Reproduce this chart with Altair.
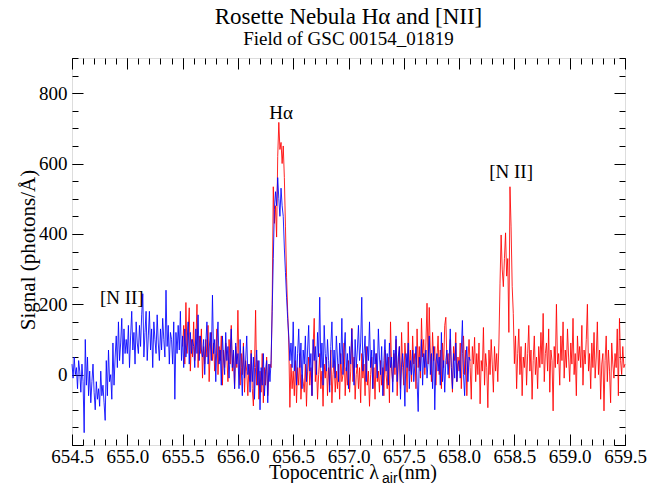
import altair as alt
import numpy as np
import pandas as pd

SERIF = "Liberation Serif"

# ---- data ----
blue_start = 654.50   # nm, sampling step 0.01 nm
red_start = 655.50
step = 0.01

blue_signal = [
    30, -10, 50, 0, 20, -40, 40, 10, -50, 30,
    -20, -165, 100, -30, 50, -60, 10, -80, -20, 30,
    -50, -100, -20, -70, -40, -90, 10, -60, -30, -80,
    -130, 40, -60, 70, -20, 0, -70, 90, -30, 50,
    110, 20, 150, 40, 90, 160, 30, 130, 60, 100,
    60, 140, 20, 110, 180, 70, 120, 30, 150, 90,
    60, 140, 80, 170, 230, 50, 120, 180, 40, 110,
    180, 70, 130, 20, 150, 100, 60, 170, 90, 40,
    130, 70, 160, 100, 50, 240, 80, 140, 30, 120,
    100, 30, 150, -70, 120, 60, 140, 70, 180, 40,
    110, 20, 130, 50, 90, 150, 30, 120, 60, 100,
    80, 20, 130, 60, 170, 40, 110, 70, 50, 100,
    0, 90, 150, 30, 70, 120, 40, 226, 60, 100,
    -20, 90, 150, 30, 70, -30, 110, 50, 0, 120,
    40, 80, -10, 60, 130, 20, 70, -40, 90, 30,
    60, -40, 100, 20, -60, 80, -10, 40, 110, 0,
    30, -50, 60, -20, 50, -70, 20, 70, -30, 40,
    -100, 20, -30, 60, -60, 10, 40, -80, 30, -20,
    40, 180, 330, 470, 520, 480, 560, 500, 450, 530,
    480, 450, 360, 290, 220, 160, 110, 40, 90, 20,
    150, 10, 80, -30, 60, 130, 20, 90, -40, 70,
    30, 110, -20, 70, 140, 10, 60, -60, 100, 40,
    80, 0, 120, 50, 220, 20, 90, -30, 140, 60,
    10, 100, 40, -50, 80, 150, 20, 70, -10, 110,
    50, -20, 90, 30, 160, 0, 70, 120, 10, 60,
    -40, 80, 30, 130, 50, -30, 100, 20, 70, 140,
    40, 90, 220, 10, 60, 110, -20, 80, 40, 150,
    20, 70, -40, 100, 30, 60, -10, 130, 50, 0,
    80, -60, 40, 100, 10, 60, -30, 90, 20, 50,
    -50, 70, 20, 110, -20, 50, 80, -70, 30, 60,
    10, -90, 60, 20, 90, -40, 40, 0, 70, -20,
    30, 80, -20, -105, 50, 10, 100, -30, 60, 20,
    70, -10, 40, 110, 0, 60, -40, 80, -100, 30,
    60, 10, 50, -30, 120, -20, 40, -50, 40, 70,
    0, 40, 130, 20, -40, 60, -10, 90, -20, 30,
    40, -10, 70, 154, 0, -60, 40, 80, -20, 50,
    40,
]

red_signal = [
    80, 140, 30, 205, 60, 120, 190, 10, 100, 50,
    150, 40, 90, 200, 20, 110, 60, 130, -10, 80,
    30, 100, 50, 140, -20, 70, 120, 40, 90, 10,
    60, 130, 0, 80, 40, 110, -30, 70, 20, 90,
    50, -20, 100, 30, 140, 10, 60, -40, 80, 20,
    183, 20, -30, 60, 0, 90, -50, 40, 10, -60,
    30, -20, 70, -40, -89, 20, 183, -30, 40, -70,
    10, -50, 60, -80, 20, -30, 50, -60, 0, 30,
    20, 200, 534, 430, 480, 391, 620, 717, 640, 660,
    600, 650, 560, 420, 277, 180, 90, -93, 30, -40,
    10, -60, 40, -80, 20, -30, 60, -70, 0, -20,
    -50, 30, -90, 10, 50, -30, 20, -60, 80, 160,
    -20, 40, -70, 0, 60, -40, 10, -90, 30, -10,
    50, -60, 20, -30, 70, -80, 0, 40, -50, 10,
    -40, 30, -70, 60, -20, 0, 90, -60, 20, -30,
    40, -50, 10, 132, -20, 50, -70, 0, 30, -40,
    20, -80, 60, -10, 30, -60, 80, -30, 10, -90,
    0, 50, -40, 20, -70, 60, -20, 10, -50, 40,
    -30, 20, -60, 70, 0, -40, 50, -80, 150, 10,
    -20, 60, 0, 100, -60, 30, 80, -40, 120, 20,
    -30, 90, 40, -50, 150, 10, 70, -20, 110, 30,
    60, -40, 130, 20, 80, -10, 160, 50, 100, 0,
    90, 203, 30, 191, 60, -20, 120, 40, 80, -30,
    50, 110, 0, 70, -40, 90, 20, 140, 163, 30,
    60, -10, 100, 20, -50, 80, 40, 120, -20, 50,
    10, 90, -40, 60, 110, 0, 70, -60, 40, 100,
    20, -70, 80, 30, 106, -20, 60, 0, 90, -83,
    40, 10, 134, -30, 60, 20, -94, 70, 0, 100,
    30, -50, 80, 10, 60, -20, 90, 260, 397, 300,
    250, 330, 403, 280, 330, 120, 534, 420, 250, 174,
    31, 110, -40, 60, 130, 0, 80, -60, 50, 20,
    90, -30, 60, 140, 10, 70, -70, 40, 110, 0,
    50, -40, 80, 20, 120, 30, 174, -20, 60, 90,
    10, 130, -50, 70, 40, -103, 80, 20, 200, 30,
    60, -30, 110, 40, 150, -10, 70, 20, 130, 50,
    -20, 90, 30, 160, 0, 60, -60, 110, 40, 80,
    20, 140, -30, 70, 30, 100, 200, 10, 60, -40,
    90, 20, 120, -10, 50, 150, 0, 70, -70, 30,
    60, -103, 40, 110, -20, 70, 10, -80, 90, 30,
    -10, 60, 20, 130, -60, 160, 40, 0, 80, 20,
    30,
]

ann_text = ["Hα", "[N II]", "[N II]"]
ann_lambda = [656.39, 658.47, 654.95]
ann_signal = [743, 577, 217]

x_major = [654.5, 655.0, 655.5, 656.0, 656.5, 657.0, 657.5, 658.0, 658.5, 659.0, 659.5]
x_minor = [round(654.5 + 0.1 * i, 1) for i in range(51)]
y_major = [-200, 0, 200, 400, 600, 800]
y_minor = [-200 + 50 * i for i in range(23)]

# ---- tables ----
blue_df = pd.DataFrame({
    "lam": np.round(blue_start + step * np.arange(len(blue_signal)), 2),
    "sig": blue_signal,
})
red_df = pd.DataFrame({
    "lam": np.round(red_start + step * np.arange(len(red_signal)), 2),
    "sig": red_signal,
})
ann_df = pd.DataFrame({"lam": ann_lambda, "sig": ann_signal, "txt": ann_text})
one = pd.DataFrame({"a": [0]})

xs = alt.Scale(domain=[654.5, 659.5], nice=False, zero=False)
ys = alt.Scale(domain=[-200, 900], nice=False, zero=False)

MAJ, MIN = 11, 6
LABEL_SIZE = 19


def xaxis(orient, values, size, labels):
    kw = dict(orient=orient, values=values, tickSize=size, offset=-size,
              domain=False, grid=False, tickColor="black", tickWidth=1,
              labels=labels, title=None)
    if labels:
        kw.update(format=".1f", labelFont=SERIF, labelFontSize=LABEL_SIZE,
                  labelColor="black", labelPadding=2, labelFlush=False,
                  labelOverlap=False)
    return alt.Axis(**kw)


def yaxis(orient, values, size, labels):
    kw = dict(orient=orient, values=values, tickSize=size, offset=-size,
              domain=False, grid=False, tickColor="black", tickWidth=1,
              labels=labels, title=None)
    if labels:
        kw.update(format="d", labelFont=SERIF, labelFontSize=LABEL_SIZE,
                  labelColor="black", labelPadding=5, labelOverlap=False,
                  labelExpr="datum.value < 0 ? '' : datum.label")
    return alt.Axis(**kw)


red = alt.Chart(red_df).mark_line(color="#ff0000", strokeWidth=1, opacity=0.85).encode(
    x=alt.X("lam:Q", scale=xs, axis=xaxis("bottom", x_major, MAJ, True)),
    y=alt.Y("sig:Q", scale=ys, axis=yaxis("left", y_major, MAJ, True)),
)

blue = alt.Chart(blue_df).mark_line(color="#0000ff", strokeWidth=1, opacity=0.85).encode(
    x=alt.X("lam:Q", scale=xs, axis=xaxis("bottom", x_minor, MIN, False)),
    y=alt.Y("sig:Q", scale=ys, axis=yaxis("left", y_minor, MIN, False)),
)

ann = alt.Chart(ann_df).mark_text(font=SERIF, fontSize=19, color="black",
                                  align="center", baseline="middle").encode(
    x=alt.X("lam:Q", scale=xs, axis=xaxis("top", x_major, MAJ, False)),
    y=alt.Y("sig:Q", scale=ys, axis=yaxis("right", y_major, MAJ, False)),
    text="txt:N",
)

ghost = alt.Chart(ann_df).mark_point(opacity=0).encode(
    x=alt.X("lam:Q", scale=xs, axis=xaxis("top", x_minor, MIN, False)),
    y=alt.Y("sig:Q", scale=ys, axis=yaxis("right", y_minor, MIN, False)),
)

xt1 = alt.Chart(one).mark_text(font=SERIF, fontSize=20, color="black",
                               align="left", baseline="alphabetic").encode(
    x=alt.value(197), y=alt.value(421), text=alt.value("Topocentric λ"))
xt2 = alt.Chart(one).mark_text(font="Liberation Sans", fontSize=14, color="black",
                               align="left", baseline="alphabetic").encode(
    x=alt.value(310), y=alt.value(425), text=alt.value("air"))
xt3 = alt.Chart(one).mark_text(font=SERIF, fontSize=20, color="black",
                               align="left", baseline="alphabetic").encode(
    x=alt.value(326), y=alt.value(421), text=alt.value("(nm)"))
yt = alt.Chart(one).mark_text(font=SERIF, fontSize=21, color="black", angle=270,
                              align="center", baseline="middle").encode(
    x=alt.value(-43), y=alt.value(192), text=alt.value("Signal (photons/Å)"))

chart = alt.layer(red, blue, ann, ghost, xt1, xt2, xt3, yt).resolve_axis(
    x="independent", y="independent"
).properties(
    width=553,
    height=387,
    autosize=alt.AutoSizeParams(type="none"),
    padding={"left": 64, "top": 50, "right": 31, "bottom": 38},
    title=alt.Title(
        "Rosette Nebula Hα and [NII]",
        subtitle="Field of GSC 00154_01819",
        font=SERIF, fontSize=23, fontWeight="normal", color="black",
        subtitleFont=SERIF, subtitleFontSize=19, subtitleColor="black",
        anchor="middle", offset=9, subtitlePadding=1,
    ),
).configure_view(stroke="black", strokeWidth=1).configure(background="white")

chart.save("out.html", embed_options={"renderer": "svg", "actions": False})
